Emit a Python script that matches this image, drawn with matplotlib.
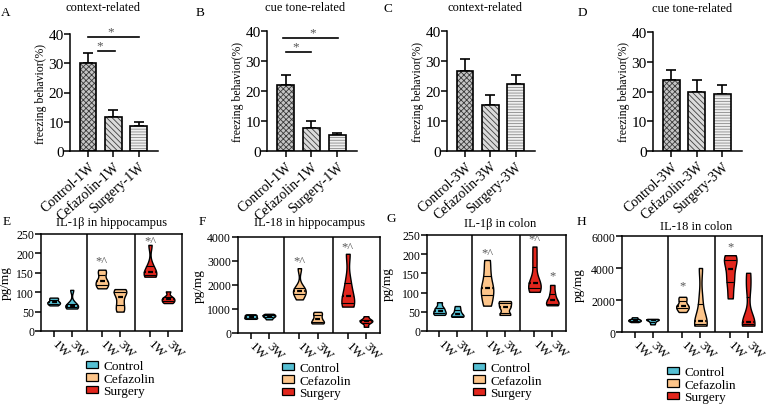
import numpy as np
import matplotlib
matplotlib.use('Agg')
import matplotlib.pyplot as plt
from matplotlib.patches import Patch

plt.rcParams['font.family'] = ['Liberation Serif', 'DejaVu Serif']
plt.rcParams['hatch.linewidth'] = 0.6
plt.rcParams['axes.linewidth'] = 1.1

# ---------------- data: freezing behaviour ----------------
groups_1w = ['Control-1W', 'Cefazolin-1W', 'Surgery-1W']
groups_3w = ['Control-3W', 'Cefazolin-3W', 'Surgery-3W']
ctx_1w_mean = [30.0, 11.6, 8.6]
ctx_1w_sem = [3.6, 2.4, 1.4]
cue_1w_mean = [22.0, 7.8, 5.5]
cue_1w_sem = [3.3, 2.1, 0.6]
ctx_3w_mean = [26.8, 15.2, 22.3]
ctx_3w_sem = [4.0, 3.6, 3.1]
cue_3w_mean = [23.8, 19.8, 19.0]
cue_3w_sem = [3.4, 4.0, 3.3]

# ---------------- data: cytokines (estimated observations) ----------------
time_labels = ['1W', '3W', '1W', '3W', '1W', '3W']
treatments = ['Control', 'Cefazolin', 'Surgery']
il1b_hippo = [
    [66, 70, 73, 76, 82, 86], [58, 60, 63, 67, 72, 106],
    [110, 118, 125, 132, 148, 158], [50, 62, 78, 96, 102, 108],
    [140, 143, 148, 155, 170, 222], [72, 76, 80, 84, 88, 102]]
il18_hippo = [
    [590, 620, 660, 700, 740, 780], [570, 640, 690, 720, 760, 800],
    [1400, 1620, 1720, 1780, 1900, 2700], [400, 430, 520, 640, 780, 880],
    [1100, 1200, 1350, 1700, 2200, 3300], [260, 420, 480, 520, 560, 700]]
il1b_colon = [
    [42, 45, 50, 56, 62, 75], [37, 38, 42, 48, 56, 65],
    [66, 88, 108, 118, 150, 185], [42, 44, 60, 65, 76, 78],
    [102, 110, 122, 128, 178, 220], [67, 70, 75, 85, 100, 120]]
il18_colon = [
    [620, 680, 720, 760, 820, 920], [480, 600, 700, 760, 790, 820],
    [1250, 1450, 1580, 1700, 2000, 2200], [400, 450, 550, 800, 2100, 4000],
    [2100, 3000, 3600, 4300, 4600, 4800], [400, 500, 560, 650, 2700, 3700]]

# significance marks: (violin index, value, text)
marks_E = [(2, 180, '*^'), (4, 232, '*^')]
marks_F = [(2, 3000, '*^'), (4, 3600, '*^')]
marks_G = [(2, 203, '*^'), (4, 240, '*^'), (5, 146, '*')]
marks_H = [(2, 2900, '*'), (4, 5350, '*')]

# ---------------- layout ----------------
W, H = 767, 406
fig = plt.figure(figsize=(W / 100, H / 100), dpi=100)


def rect(l, r, t, b):
    return [l / W, 1 - b / H, (r - l) / W, (b - t) / H]


bar_face = ['#c4c4c4', '#dadada', '#efefef']
bar_hatchc = ['#3a3a3a', '#404040', '#8a8a8a']
bar_hatch = ['xxxxxx', '\\\\\\\\\\\\', '------']


def bar_panel(box, names, means, sems, title, tpos, letter, lpos, sig=()):
    ax = fig.add_axes(rect(*box))
    x = np.arange(len(names))
    for i in range(len(names)):
        ax.bar(x[i], means[i], width=0.66, color=bar_face[i], edgecolor=bar_hatchc[i],
               hatch=bar_hatch[i], linewidth=0, zorder=2)
        ax.bar(x[i], means[i], width=0.66, fill=False, edgecolor='black',
               linewidth=1.2, zorder=3)
    ax.errorbar(x, means, yerr=[np.zeros(len(sems)), sems], fmt='none',
                ecolor='black', elinewidth=1.2, capsize=3.5, capthick=1.2, zorder=1)
    ax.set_xlim(-0.72, 2.77)
    ax.set_ylim(0, 40)
    ax.set_yticks([0, 10, 20, 30, 40])
    ax.set_xticks(x)
    ax.set_xticklabels(names, rotation=42, ha='right', rotation_mode='anchor', fontsize=10)
    ax.tick_params(axis='y', labelsize=11, length=4, width=1.1, pad=0.5)
    ax.tick_params(axis='x', length=4, width=1.1, pad=2)
    for s in ('top', 'right'):
        ax.spines[s].set_visible(False)
    ax.set_ylabel('freezing behavior(%)', fontsize=8.5, labelpad=1)
    for (x1, x2, y, sx, sy) in sig:
        ax.plot([x1, x2], [y, y], color='black', lw=1.2, clip_on=False)
        ax.text(sx, sy, '*', ha='center', va='center', fontsize=9.5, color='#555555')
    fig.text(tpos[0] / W, 1 - tpos[1] / H, title, ha='center', va='center', fontsize=9)
    fig.text(lpos[0] / W, 1 - lpos[1] / H, letter, ha='center', va='center', fontsize=9.5)
    return ax


bar_panel((70, 158, 35, 152), groups_1w, ctx_1w_mean, ctx_1w_sem, 'context-related',
          (103, 8), 'A', (6, 13),
          sig=[(0.38, 1.05, 34.3, 0.46, 36.0), (0.0, 2.03, 39.0, 0.88, 41.0)])
bar_panel((267, 357, 32, 152), groups_1w, cue_1w_mean, cue_1w_sem, 'cue tone-related',
          (305, 8), 'B', (200, 13),
          sig=[(0.0, 1.0, 33.0, 0.4, 34.8), (-0.1, 2.05, 37.7, 1.06, 39.7)])
bar_panel((447, 535, 32, 152), groups_3w, ctx_3w_mean, ctx_3w_sem, 'context-related',
          (485, 8), 'C', (388, 9))
bar_panel((653, 742, 33, 152), groups_3w, cue_3w_mean, cue_3w_sem, 'cue tone-related',
          (692, 9), 'D', (582, 13))

vcolors = ['#55bfd3', '#55bfd3', '#fdc58a', '#fdc58a', '#e2261d', '#e2261d']
positions = [0, 1, 2.67, 3.67, 5.33, 6.33]
legend_colors = ['#55bfd3', '#fdc58a', '#e2261d']


def violin_panel(box, data, ymax, ystep, title, tpos, letter, lpos, marks, legpos, ylab_off):
    ax = fig.add_axes(rect(*box))
    parts = ax.violinplot(data, positions=positions, widths=0.7, showextrema=False,
                          bw_method=0.45)
    for i, body in enumerate(parts['bodies']):
        body.set_facecolor(vcolors[i])
        body.set_edgecolor('black')
        body.set_linewidth(1.0)
        body.set_alpha(1)
        body.set_zorder(2)
        path = body.get_paths()[0]
        q1, med, q3 = np.percentile(data[i], [25, 50, 75])
        p = positions[i]
        ln, = ax.plot([p - 0.5, p + 0.5], [med, med], color='black', lw=1.6,
                      ls=(0, (2.2, 1.0)), zorder=3)
        ln.set_clip_path(path, body.get_transform())
        for q in (q1, q3):
            lq, = ax.plot([p - 0.5, p + 0.5], [q, q], color='black', lw=0.8, zorder=3)
            lq.set_clip_path(path, body.get_transform())
    for xs in (1.835, 4.5):
        ax.axvline(xs, color='black', lw=1.1)
    ax.set_xlim(-0.7, 7.1)
    ax.set_ylim(0, ymax)
    ax.set_yticks(np.arange(0, ymax + 1, ystep))
    ax.set_xticks(positions)
    ax.set_xticklabels(time_labels, rotation=-45, ha='left', va='center',
                       rotation_mode='anchor', fontsize=9.5)
    ax.tick_params(axis='y', labelsize=8.5, length=4, width=1.1, pad=1)
    ax.tick_params(axis='x', length=4, width=1.1, pad=3.5)
    ax.set_ylabel('pg/mg', fontsize=9.5)
    ax.yaxis.set_label_coords(-ylab_off / (box[1] - box[0]), 0.5)
    for (i, v, t) in marks:
        ax.text(positions[i], v, t, ha='center', va='center', fontsize=9, color='#555555')
    fig.text(tpos[0] / W, 1 - tpos[1] / H, title, ha='center', va='center', fontsize=9)
    fig.text(lpos[0] / W, 1 - lpos[1] / H, letter, ha='center', va='center', fontsize=9.5)
    handles = [Patch(facecolor=c, edgecolor='black', linewidth=0.9) for c in legend_colors]
    fig.legend(handles, treatments, loc='upper left',
               bbox_to_anchor=(legpos[0] / W, 1 - legpos[1] / H), frameon=False,
               fontsize=9.5, handlelength=0.9, handleheight=0.5, handletextpad=0.4,
               labelspacing=0.05, borderpad=0, borderaxespad=0)
    return ax


violin_panel((41, 182, 235, 332), il1b_hippo, 250, 50, 'IL-1\u03b2 in hippocampus',
             (112, 223), 'E', (7, 222), marks_E, (86, 361), 29)
violin_panel((238, 380, 238, 334), il18_hippo, 4000, 1000, 'IL-18 in hippocampus',
             (310, 223), 'F', (202, 222), marks_F, (282, 363), 33)
violin_panel((427, 566, 236, 332), il1b_colon, 250, 50, 'IL-1\u03b2 in colon',
             (500, 224), 'G', (391, 219), marks_G, (473, 363), 33)
violin_panel((622, 762, 237, 333), il18_colon, 6000, 2000, 'IL-18 in colon',
             (696, 227), 'H', (581, 222), marks_H, (667, 367), 37)

fig.savefig('out.png', dpi=100)
